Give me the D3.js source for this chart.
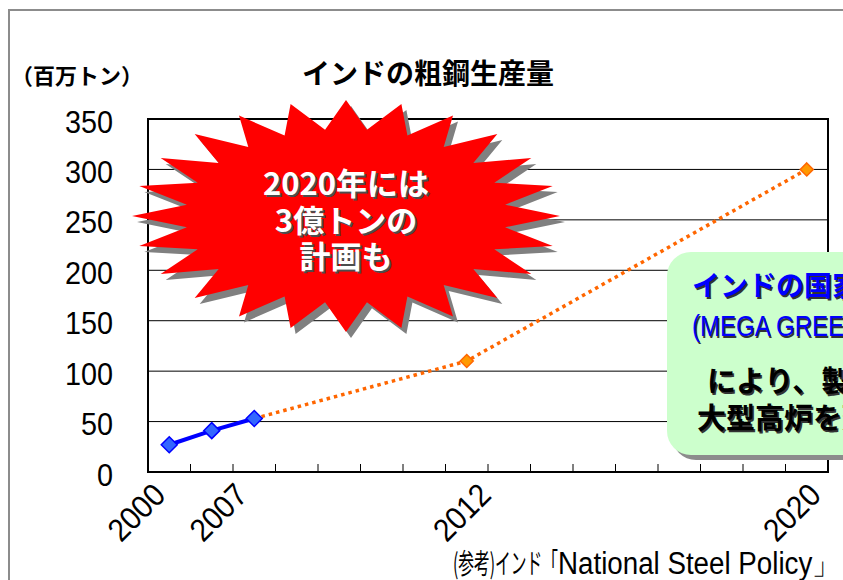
<!DOCTYPE html>
<html>
<head>
<meta charset="utf-8">
<script src="https://cdn.jsdelivr.net/npm/d3@7"></script>
<style>
html, body { margin: 0; padding: 0; background: #fff; overflow: hidden; }
svg { display: block; }
</style>
</head>
<body>
<svg id="chart" width="843" height="580"></svg>
<script>
// Crude steel production in India (million tonnes), actual and planned
const categories = ["2000", "", "2007", "", "", "", "", "2012", "", "", "", "", "", "", "", "2020"];
const actualValues = [27, 41, 53, null, null, null, null, null, null, null, null, null, null, null, null, null];
const planValues = [null, null, 53, null, null, null, null, 110, null, null, null, null, null, null, null, 300];
const yTicks = [0, 50, 100, 150, 200, 250, 300, 350];

const titleText = "インドの粗鋼生産量";
const unitText = "（百万トン）";
const burstLines = ["2020年には", "3億トンの", "計画も"];
const noteBlue = ["インドの国家プロジェクト", "(MEGA GREENFIELD PROJECT)"];
const noteBlack = ["により、製鉄所を新設", "大型高炉を建設"];
const sourceCjk = "(参考)インド「";
const sourceLatin = "National Steel Policy」";

// horizontal nudges for the rotated year labels, by category index
const yearLabelNudge = { 0: -6, 2: -9, 7: 22, 15: 12 };

const W = 843, H = 580;
const plot = { left: 148, right: 828, top: 119, bottom: 472 };

const svg = d3.select("#chart");
const cjk = "'Noto Sans CJK JP', 'Noto Sans CJK SC', sans-serif";
const latin = "'Liberation Sans', Arial, sans-serif";

// outer frame
svg.append("rect").attr("width", W).attr("height", H).attr("fill", "#fff");
svg.append("path")
  .attr("d", `M9,${H + 5} V10 H${W + 5}`)
  .attr("fill", "none").attr("stroke", "#8c8c8c").attr("stroke-width", 2);

const x = d3.scaleBand().domain(d3.range(categories.length)).range([plot.left, plot.right]).paddingInner(0).paddingOuter(0);
const y = d3.scaleLinear().domain([0, 350]).range([plot.bottom, plot.top]);
const cx = i => x(i) + x.bandwidth() / 2;

// gridlines
svg.append("g").selectAll("line").data(yTicks).join("line")
  .attr("x1", plot.left).attr("x2", plot.right)
  .attr("y1", d => y(d)).attr("y2", d => y(d))
  .attr("stroke", "#000").attr("stroke-width", 1);

// y axis labels (condensed look)
const yAxis = d3.axisLeft(y).tickValues(yTicks).tickSize(0);
const gy = svg.append("g").attr("transform", `translate(${plot.left},0)`).call(yAxis);
gy.select(".domain").remove();
gy.selectAll("text")
  .attr("font-family", latin).attr("font-size", 32).attr("fill", "#000")
  .attr("x", 0).attr("dy", null).attr("text-anchor", "end")
  .attr("transform", "translate(-35,13) scale(0.9,1)");

// x axis: tick marks between categories, pointing up
svg.append("g").selectAll("line").data(d3.range(1, categories.length)).join("line")
  .attr("x1", i => x(i)).attr("x2", i => x(i))
  .attr("y1", plot.bottom).attr("y2", plot.bottom - 8)
  .attr("stroke", "#000").attr("stroke-width", 1);

const xAxis = d3.axisBottom(x).tickFormat(i => categories[i]).tickSize(0);
const gx = svg.append("g").attr("transform", `translate(0,${plot.bottom})`).call(xAxis);
gx.select(".domain").remove();
gx.selectAll(".tick text")
  .attr("font-family", latin).attr("font-size", 32).attr("fill", "#000")
  .attr("text-anchor", "end")
  .attr("dy", null).attr("y", null)
  .attr("transform", i => `translate(${4 + (yearLabelNudge[i] || 0)},25) rotate(-45) scale(0.92,1)`);

// plot border
svg.append("rect")
  .attr("x", plot.left).attr("y", plot.top)
  .attr("width", plot.right - plot.left).attr("height", plot.bottom - plot.top)
  .attr("fill", "none").attr("stroke", "#000").attr("stroke-width", 2);

// planned series (dotted orange)
const planPts = planValues.map((v, i) => ({ i, v })).filter(d => d.v != null);
svg.append("path").datum(planPts)
  .attr("d", d3.line().x(d => cx(d.i)).y(d => y(d.v)))
  .attr("fill", "none").attr("stroke", "#ff6600").attr("stroke-width", 3.5)
  .attr("stroke-dasharray", "3.5,4");
const diamond = r => `M0,${-r} L${r},0 L0,${r} L${-r},0 Z`;
svg.append("g").selectAll("path").data(planPts.slice(1)).join("path")
  .attr("transform", d => `translate(${cx(d.i)},${y(d.v)})`)
  .attr("d", diamond(6.5))
  .attr("fill", "#ff9900").attr("stroke", "#ff6600").attr("stroke-width", 1.5);

// actual series (solid blue)
const actPts = actualValues.map((v, i) => ({ i, v })).filter(d => d.v != null);
svg.append("path").datum(actPts)
  .attr("d", d3.line().x(d => cx(d.i)).y(d => y(d.v)))
  .attr("fill", "none").attr("stroke", "#0000ff").attr("stroke-width", 4);
svg.append("g").selectAll("path").data(actPts).join("path")
  .attr("transform", d => `translate(${cx(d.i)},${y(d.v)})`)
  .attr("d", diamond(8))
  .attr("fill", "#3366ff").attr("stroke", "#0000ff").attr("stroke-width", 1.5);

// titles
svg.append("text").attr("x", 428).attr("y", 84)
  .attr("text-anchor", "middle").attr("font-family", cjk).attr("font-weight", 700)
  .attr("font-size", 28).attr("fill", "#000").text(titleText);
svg.append("text").attr("x", 11).attr("y", 84)
  .attr("font-family", cjk).attr("font-weight", 700)
  .attr("font-size", 22).attr("fill", "#000").text(unitText);

// 24-point burst with drop shadow
const burst = { cx: 346, cy: 216, rx: 214, ry: 116, inner: 0.75, points: 24 };
const burstPts = d3.range(burst.points * 2).map(k => {
  const a = k * Math.PI / burst.points;
  const r = k % 2 === 0 ? 1 : burst.inner;
  return [burst.cx + burst.rx * r * Math.cos(a), burst.cy + burst.ry * r * Math.sin(a)];
});
const burstPath = "M" + burstPts.map(p => p.join(",")).join("L") + "Z";
svg.append("path").attr("d", burstPath).attr("transform", "translate(5,6)").attr("fill", "#808080");
svg.append("path").attr("d", burstPath).attr("fill", "#ff0000");

const burstBase = [195, 232, 268];
burstLines.forEach((t, k) => {
  svg.append("text").attr("x", burst.cx + 2).attr("y", burstBase[k] + 2)
    .attr("text-anchor", "middle").attr("font-family", cjk).attr("font-weight", 700)
    .attr("font-size", 31).attr("fill", "#4d4d4d").text(t);
  svg.append("text").attr("x", burst.cx).attr("y", burstBase[k])
    .attr("text-anchor", "middle").attr("font-family", cjk).attr("font-weight", 700)
    .attr("font-size", 31).attr("fill", "#fff").text(t);
});

// callout box
svg.append("rect").attr("x", 672).attr("y", 257).attr("width", 240).attr("height", 203)
  .attr("rx", 24).attr("fill", "#8c8c8c");
svg.append("rect").attr("x", 667).attr("y", 252).attr("width", 240).attr("height", 203)
  .attr("rx", 24).attr("fill", "#ccffcc");

function shadowText(xp, yp, txt, opts) {
  const g = svg.append("g").attr("transform", `translate(${xp},${yp}) scale(${opts.sx || 1},1)`);
  [[1.5, "#333"], [0, opts.fill]].forEach(([o, c]) => {
    g.append("text").attr("x", o).attr("y", o)
      .attr("font-family", opts.family).attr("font-weight", opts.weight)
      .attr("font-size", opts.size).attr("fill", c).text(txt);
  });
}
shadowText(692, 296, noteBlue[0], { family: cjk, weight: 700, size: 28, fill: "#0000ff" });
shadowText(692, 336, noteBlue[1], { family: latin, weight: 400, size: 30, fill: "#0000ff", sx: 0.8 });
shadowText(707, 392, noteBlack[0], { family: cjk, weight: 700, size: 29, fill: "#000" });
shadowText(697, 429, noteBlack[1], { family: cjk, weight: 700, size: 29, fill: "#000" });

// source note
svg.append("text").attr("x", 453).attr("y", 574)
  .attr("font-family", cjk).attr("font-size", 28).attr("fill", "#000")
  .attr("textLength", 105).attr("lengthAdjust", "spacingAndGlyphs").text(sourceCjk);
svg.append("text").attr("x", 558).attr("y", 574)
  .attr("font-family", latin).attr("font-size", 31).attr("fill", "#000")
  .attr("textLength", 282).attr("lengthAdjust", "spacingAndGlyphs").text(sourceLatin);
</script>
</body>
</html>
